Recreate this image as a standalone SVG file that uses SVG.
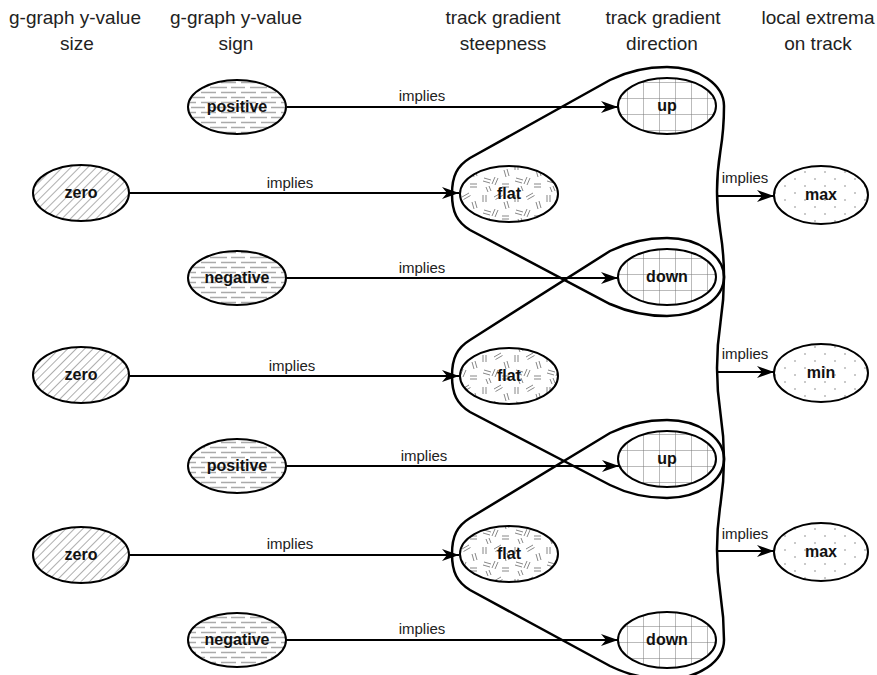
<svg xmlns="http://www.w3.org/2000/svg" width="877" height="675" viewBox="0 0 877 675">
<style>
.hdr{font-family:"Liberation Sans",Arial,sans-serif;font-size:19px;fill:#222;text-anchor:middle}
.lbl{font-family:"Liberation Sans",Arial,sans-serif;font-size:15px;fill:#222;text-anchor:middle}
.nt{font-family:"Liberation Sans",Arial,sans-serif;font-size:16px;font-weight:bold;fill:#111;text-anchor:middle}
.node{stroke:#000;stroke-width:2}
.edge{stroke:#000;stroke-width:2;fill:none;marker-end:url(#arr)}
.encl{stroke:#000;stroke-width:2.5;fill:none}
</style>
<defs>
<marker id="arr" markerUnits="userSpaceOnUse" markerWidth="17" markerHeight="12" refX="17" refY="6" orient="auto">
<path d="M0,0 L17,6 L0,12 L5,6 Z" fill="#000"/>
</marker>
<pattern id="hatch" width="6" height="6" patternUnits="userSpaceOnUse" patternTransform="rotate(45)">
<rect width="6" height="6" fill="#fff"/>
<line x1="0" y1="0" x2="0" y2="6" stroke="#777" stroke-width="1.2"/>
</pattern>
<pattern id="dash" width="40" height="10" patternUnits="userSpaceOnUse">
<rect width="40" height="10" fill="#fff"/>
<g stroke="#aaa" stroke-width="1.5">
<line x1="1" y1="2.5" x2="16" y2="2.5"/><line x1="21" y1="2.5" x2="36" y2="2.5"/>
<line x1="10" y1="7.5" x2="27" y2="7.5"/><line x1="31" y1="7.5" x2="40" y2="7.5"/><line x1="0" y1="7.5" x2="5" y2="7.5"/>
</g>
</pattern>
<pattern id="conf" width="32" height="32" patternUnits="userSpaceOnUse">
<rect width="32" height="32" fill="#fff"/>
<g stroke="#888" stroke-width="1">
<path d="M3,3 l0,7 M6,3 l0,7"/>
<path d="M14,5 l7,-4 M15.5,7.5 l7,-4"/>
<path d="M24,10 l2,7 M27,9 l2,7"/>
<path d="M4,18 l7,2 M3,21 l7,2"/>
<path d="M15,17 l-3,7 M18,18 l-3,7"/>
<path d="M22,24 l7,0 M22,27 l7,0"/>
<path d="M6,27 l2,5 M9,26 l2,5"/>
</g>
</pattern>
<pattern id="grid" width="16" height="16" patternUnits="userSpaceOnUse" x="3" y="2">
<rect width="16" height="16" fill="#fff"/>
<path d="M0,0 L16,0 M0,0 L0,16" stroke="#777" stroke-width="1" fill="none"/>
</pattern>
<pattern id="dots" width="20" height="14" patternUnits="userSpaceOnUse">
<rect width="20" height="14" fill="#fff"/>
<circle cx="5" cy="4" r="0.8" fill="#888"/><circle cx="15" cy="11" r="0.8" fill="#888"/>
</pattern>
</defs>
<rect width="877" height="675" fill="#fff"/>

<g id="headers">
<text class="hdr" x="75" y="24">g-graph y-value</text>
<text class="hdr" x="77" y="50">size</text>
<text class="hdr" x="236" y="24">g-graph y-value</text>
<text class="hdr" x="236" y="50">sign</text>
<text class="hdr" x="503" y="24">track gradient</text>
<text class="hdr" x="503" y="50">steepness</text>
<text class="hdr" x="663" y="24">track gradient</text>
<text class="hdr" x="662" y="50">direction</text>
<text class="hdr" x="818" y="24">local extrema</text>
<text class="hdr" x="818" y="50">on track</text>
</g>

<g id="connectors">
<line class="edge" x1="287" y1="107" x2="618" y2="107"/>
<line class="edge" x1="129" y1="193" x2="459" y2="193"/>
<line class="edge" x1="286" y1="278" x2="618" y2="278"/>
<line class="edge" x1="129" y1="376" x2="459" y2="376"/>
<line class="edge" x1="286" y1="466" x2="619" y2="466"/>
<line class="edge" x1="129" y1="555" x2="459" y2="555"/>
<line class="edge" x1="286" y1="640" x2="618" y2="640"/>
<line class="edge" x1="717" y1="196" x2="774" y2="196"/>
<line class="edge" x1="717" y1="372" x2="774" y2="372"/>
<line class="edge" x1="717" y1="551" x2="774" y2="551"/>
<text class="lbl" x="422" y="101">implies</text>
<text class="lbl" x="290" y="188">implies</text>
<text class="lbl" x="422" y="273">implies</text>
<text class="lbl" x="292" y="371">implies</text>
<text class="lbl" x="424" y="461">implies</text>
<text class="lbl" x="290" y="549">implies</text>
<text class="lbl" x="422" y="634">implies</text>
<text class="lbl" x="745" y="183">implies</text>
<text class="lbl" x="745" y="359">implies</text>
<text class="lbl" x="745" y="539">implies</text>
</g>

<g id="group1"><path class="encl" d="M452,194 C452,176 457,166 470,158 L610,80 C628,71 645,67 667,67 C698.5,67 724,84.5 724,106 C724,151 717,151 717,191.5 C717,232 724,232 724,277 C724,298.5 698.5,316 667,316 C645,316 628,312 610,304 L470,230 C457,222 452,212 452,194 Z"/></g>
<g id="group2"><path class="encl" d="M452,376 C452,358 457,348 470,340 L610,251 C628,242 645,238 667,238 C698.5,238 724,255.5 724,277 C724,322 717,322 717,368 C717,414 724,414 724,459 C724,480.5 698.5,498 667,498 C645,498 628,494 610,485 L470,412 C457,404 452,394 452,376 Z"/></g>
<g id="group3"><path class="encl" d="M452,554 C452,536 457,526 470,518 L610,433 C628,424 645,420 667,420 C698.5,420 724,437.5 724,459 C724,504 717,504 717,549.5 C717,595 724,595 724,640 C724,661.5 698.5,679 667,679 C645,679 628,675 610,666 L470,590 C457,582 452,572 452,554 Z"/></g>

<g id="zero1"><ellipse class="node" cx="81" cy="193" rx="48" ry="28" fill="url(#hatch)"/><text class="nt" x="81" y="198">zero</text></g>
<g id="zero2"><ellipse class="node" cx="81" cy="375" rx="48" ry="28" fill="url(#hatch)"/><text class="nt" x="81" y="380">zero</text></g>
<g id="zero3"><ellipse class="node" cx="81" cy="555" rx="48" ry="28" fill="url(#hatch)"/><text class="nt" x="81" y="560">zero</text></g>

<g id="positive1"><ellipse class="node" cx="237" cy="107" rx="49" ry="27" fill="url(#dash)"/><text class="nt" x="237" y="112">positive</text></g>
<g id="negative1"><ellipse class="node" cx="237" cy="278" rx="49" ry="27" fill="url(#dash)"/><text class="nt" x="237" y="283">negative</text></g>
<g id="positive2"><ellipse class="node" cx="237" cy="466" rx="49" ry="27" fill="url(#dash)"/><text class="nt" x="237" y="471">positive</text></g>
<g id="negative2"><ellipse class="node" cx="237" cy="640" rx="49" ry="27" fill="url(#dash)"/><text class="nt" x="237" y="645">negative</text></g>

<g id="flat1"><ellipse class="node" cx="509" cy="194" rx="49" ry="28" fill="url(#conf)"/><text class="nt" x="509" y="199">flat</text></g>
<g id="flat2"><ellipse class="node" cx="509" cy="376" rx="49" ry="28" fill="url(#conf)"/><text class="nt" x="509" y="381">flat</text></g>
<g id="flat3"><ellipse class="node" cx="509" cy="554" rx="49" ry="28" fill="url(#conf)"/><text class="nt" x="509" y="559">flat</text></g>

<g id="up1"><ellipse class="node" cx="667" cy="106" rx="49" ry="28" fill="url(#grid)"/><text class="nt" x="667" y="111">up</text></g>
<g id="down1"><ellipse class="node" cx="667" cy="277" rx="49" ry="28" fill="url(#grid)"/><text class="nt" x="667" y="282">down</text></g>
<g id="up2"><ellipse class="node" cx="667" cy="459" rx="49" ry="28" fill="url(#grid)"/><text class="nt" x="667" y="464">up</text></g>
<g id="down2"><ellipse class="node" cx="667" cy="640" rx="49" ry="28" fill="url(#grid)"/><text class="nt" x="667" y="645">down</text></g>

<g id="max1"><ellipse class="node" cx="821" cy="195" rx="47" ry="29" fill="url(#dots)"/><text class="nt" x="821" y="200">max</text></g>
<g id="min1"><ellipse class="node" cx="821" cy="373" rx="47" ry="29" fill="url(#dots)"/><text class="nt" x="821" y="378">min</text></g>
<g id="max2"><ellipse class="node" cx="821" cy="552" rx="47" ry="29" fill="url(#dots)"/><text class="nt" x="821" y="557">max</text></g>
</svg>
